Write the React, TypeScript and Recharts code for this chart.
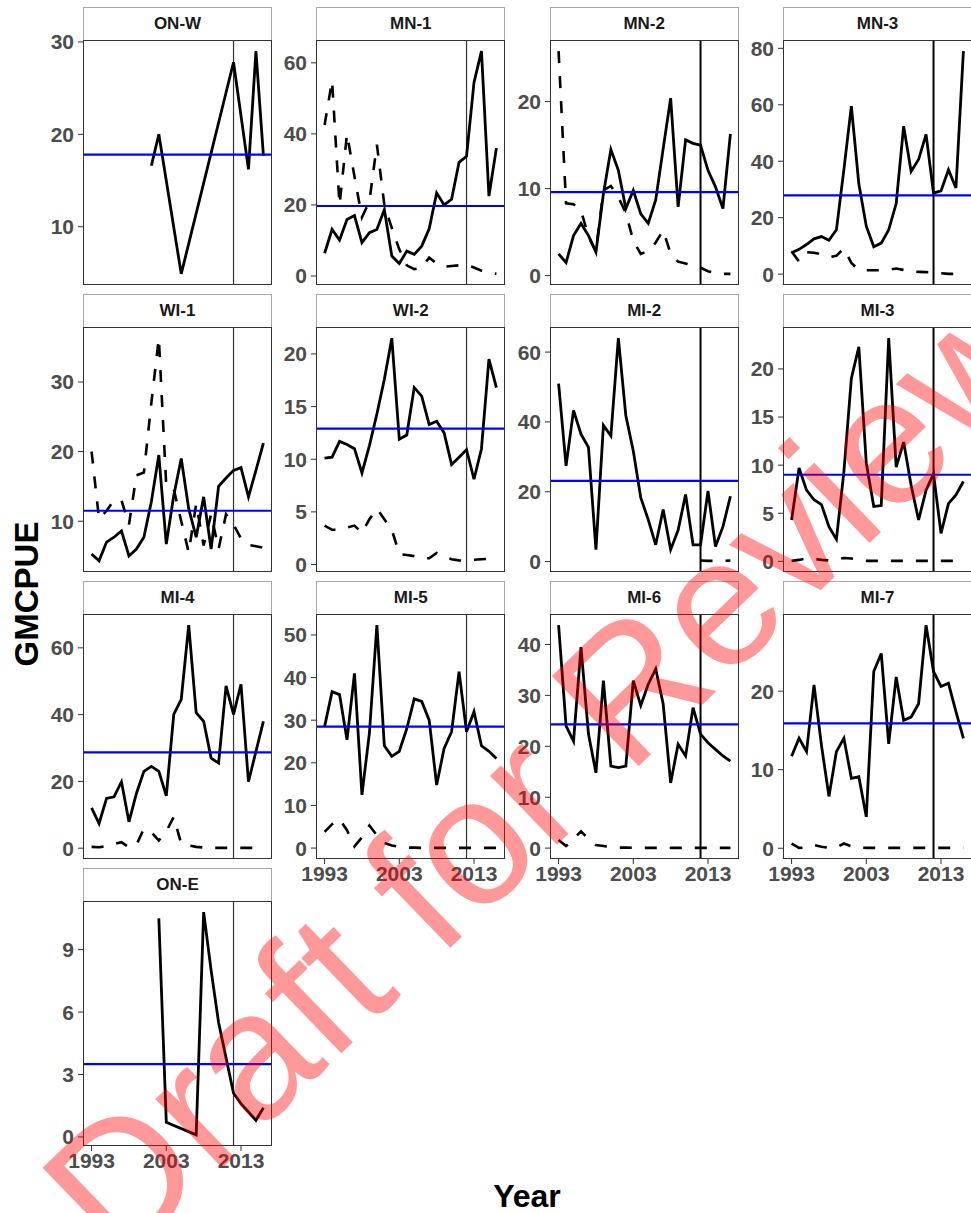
import React from "react";
import { LineChart, Line, XAxis, YAxis, ReferenceLine } from "recharts";

// ---------- data ----------
const YEARS = [1993, 1994, 1995, 1996, 1997, 1998, 1999, 2000, 2001, 2002, 2003, 2004, 2005, 2006, 2007, 2008, 2009, 2010, 2011, 2012, 2013, 2014, 2015, 2016];
const X_TICKS = [1993, 2003, 2013];
const BREAK_YEAR = 2012;

const PANEL_NAMES = ["ON-W", "MN-1", "MN-2", "MN-3", "WI-1", "WI-2", "MI-2", "MI-3", "MI-4", "MI-5", "MI-6", "MI-7", "ON-E"];
const MEANS = [17.8, 19.7, 9.6, 27.9, 11.5, 12.9, 23.1, 9.0, 28.7, 28.5, 24.3, 15.9, 3.5];
const Y_TICKS = [
  [10, 20, 30],
  [0, 20, 40, 60],
  [0, 10, 20],
  [0, 20, 40, 60, 80],
  [10, 20, 30],
  [0, 5, 10, 15, 20],
  [0, 20, 40, 60],
  [0, 5, 10, 15, 20],
  [0, 20, 40, 60],
  [0, 10, 20, 30, 40, 50],
  [0, 10, 20, 30, 40],
  [0, 10, 20],
  [0, 3, 6, 9],
];

const ONW_SOLID = [null, null, null, null, null, null, null, null, 16.6, 20, null, null, 4.9, null, null, null, null, null, null, 27.8, null, 16.2, 29, 17.7];
const ONW_DASH = [];
const MN1_SOLID = [6.4, 13.1, 10.1, 15.9, 17, 9.4, 12.2, 13.1, 18.7, 5.6, 3.5, 7, 6.1, 8.4, 13.3, 23.4, 20, 21.6, 32, 33.7, 54.5, 63.3, 22.5, 36];
const MN1_DASH = [42.5, 55, 20, 40, 28, 16.5, 21, 37, 20, 13.5, 7.5, 3, 1.9, 2.3, 5.2, 3.5, 2.6, 2.8, 3, 3.2, 2.4, 1.5, 1, 0.6];
const MN2_SOLID = [2.5, 1.5, 4.6, 6, 4.6, 2.7, 9.4, 14.5, 12.1, 7.7, 9.8, 7.1, 6, 8.7, 14.6, 20.4, 7.9, 15.6, 15.2, 15, 12.1, 10.2, 7.7, 16.3];
const MN2_DASH = [25.8, 8.3, 8.2, 7.5, 4.5, 2.8, 9.8, 10.3, 9, 7.2, 4, 2.5, 2.8, 3.8, 5.2, 2.5, 1.6, 1.4, 1.2, 0.9, 0.5, 0.3, 0.2, 0.2];
const MN3_SOLID = [7.6, 8.8, 10.5, 12.5, 13.3, 12, 15.7, 37, 59.5, 32, 17, 9.7, 11, 15.7, 25, 52.4, 36.4, 40.6, 49.5, 28.7, 29.5, 37, 30.5, 79];
const MN3_DASH = [8, 4.5, 7.8, 7.6, 7, 6, 6.5, 9.1, 4, 1.5, 1.4, 1.4, 1.4, 1.5, 2, 1.5, 0.9, 0.8, 0.7, 0.6, 0.3, 0.1, 0.1, 0.1];
const WI1_SOLID = [5.3, 4.3, 7, 7.7, 8.6, 5, 6, 7.7, 12.8, 19.5, 6.7, 13.7, 19, 11.8, 7.7, 13.5, 6, 15, 16.2, 17.3, 17.7, 13.5, 17.3, 21.2];
const WI1_DASH = [20, 10.3, 11.5, 13, 13, 9.5, 16.6, 17, 27, 36.3, 15, 14.6, 10, 5.5, 12.5, 6.5, 11, 6, 11, 9.5, 7.5, 6.6, 6.4, 6.2];
const WI2_SOLID = [10.1, 10.2, 11.7, 11.4, 11, 8.7, 11.3, 14.3, 17.6, 21.5, 11.9, 12.3, 16.8, 16, 13.3, 13.6, 12.5, 9.5, 10.2, 10.9, 8.1, 11, 19.5, 16.8];
const WI2_DASH = [3.7, 3.3, 3.3, 3.5, 3.7, 3, 4.3, 5.3, 4.3, 3.3, 1, 0.9, 0.8, 0.6, 0.6, 1.1, 0.8, 0.5, 0.4, 0.35, 0.45, 0.5, 0.55, 0.6];
const MI2_SOLID = [51, 27.4, 43.3, 36.5, 32.7, 3.4, 39, 36, 64, 41.8, 31.7, 18.3, 12, 4.8, 14.9, 3.4, 9, 19.2, 4.8, 4.8, 20.2, 4.3, 10, 18.7];
const MI2_DASH = [null, null, null, null, null, null, null, null, null, null, null, null, null, null, null, null, null, null, null, 0.3, 0.2, 0.2, 0.2, 0.3];
const MI3_SOLID = [4.3, 9.7, 7.4, 6.4, 5.9, 3.6, 2.3, 9.3, 19, 22.3, 10.2, 5.7, 5.8, 23.2, 9.8, 12.4, 7.9, 4.3, 7.4, 9.1, 2.9, 6, 6.9, 8.3];
const MI3_DASH = [0.05, 0.15, 0.3, 0.25, 0.15, 0.1, 0.2, 0.35, 0.3, 0.15, 0.05, 0.05, 0.05, 0.05, 0.05, 0.05, 0.05, 0.05, 0.05, 0.05, 0.05, 0.05, 0.05, 0.05];
const MI4_SOLID = [12.1, 7.4, 14.9, 15.4, 19.9, 7.9, 16.4, 23, 24.5, 23, 15.7, 40.1, 44.6, 66.8, 40.6, 38, 27, 25.5, 48.6, 40.1, 49.1, 19.9, 29, 38];
const MI4_DASH = [0.4, 0.3, 0.6, 1.2, 1.8, 0.3, 1, 5.8, 4.8, 2.3, 5, 9.4, 1.3, 0.8, 0.4, 0.2, 0.1, 0.1, 0.1, 0.1, 0.1, 0.1, 0.1, 0.1];
const MI5_SOLID = [28.5, 36.7, 36, 25.4, 41, 12.5, 27, 52.3, 24, 21.5, 22.7, 28, 35, 34.4, 30, 14.8, 23.4, 27.3, 41.4, 27.3, 32, 24, 22.7, 21];
const MI5_DASH = [3.8, 5.6, 6.8, 4.2, 0.4, 2.5, 5.3, 3, 1.2, 0.6, 0.3, 0.1, 0.1, 0.05, 0.05, 0.05, 0.05, 0.05, 0.05, 0.05, 0.05, 0.05, 0.05, 0.05];
const MI6_SOLID = [43.8, 24, 21, 39.5, 22.4, 14.8, 32.9, 16.1, 15.8, 16.1, 32.9, 28, 32.2, 35.2, 28.3, 12.8, 20.4, 18.1, 27.6, 22.4, 20.7, 19.4, 18.1, 17.1];
const MI6_DASH = [1.6, 0.4, 1.8, 3.3, 1.8, 0.6, 0.4, 0.2, 0.1, 0.1, 0.05, 0.05, 0.05, 0.05, 0.05, 0.05, 0.05, 0.05, 0.05, 0.05, 0.05, 0.05, 0.05, 0.05];
const MI7_SOLID = [11.7, 14, 12.3, 20.8, 13.1, 6.6, 12.3, 14, 8.9, 9.1, 4, 22.5, 24.8, 13.3, 21.8, 16.3, 16.7, 18.4, 28.4, 22.5, 20.6, 21, 17.4, 14];
const MI7_DASH = [0.6, 0.05, 0.1, 0.4, 0.2, 0.05, 0.1, 0.6, 0.25, 0.1, 0.05, 0.05, 0.05, 0.05, 0.05, 0.05, 0.05, 0.05, 0.05, 0.05, 0.05, 0.05, 0.05, 0.05];
const ONE_SOLID = [null, null, null, null, null, null, null, null, null, 10.5, 0.7, null, null, null, 0.1, 10.8, 8, 5.5, 3.8, 2.1, 1.6, 1.2, 0.8, 1.4];
const ONE_DASH = [];

const SOLIDS = [ONW_SOLID, MN1_SOLID, MN2_SOLID, MN3_SOLID, WI1_SOLID, WI2_SOLID, MI2_SOLID, MI3_SOLID, MI4_SOLID, MI5_SOLID, MI6_SOLID, MI7_SOLID, ONE_SOLID];
const DASHES = [ONW_DASH, MN1_DASH, MN2_DASH, MN3_DASH, WI1_DASH, WI2_DASH, MI2_DASH, MI3_DASH, MI4_DASH, MI5_DASH, MI6_DASH, MI7_DASH, ONE_DASH];

// ---------- layout ----------
const FONT = "'Liberation Sans', Arial, Helvetica, sans-serif";
const COL_LEFT = [83, 316.3, 549.7, 783];
const STRIP_TOP = [7, 294, 581, 868];
const STRIP_H = 33;
const PANEL_W = 189;
const PANEL_H = 245;
const Y_AXIS_W = 70;
const X_AXIS_H = 34;
const PAD = 14;
const X_MIN = 1991.85;
const X_MAX = 2017.15;

function yDomain(solid: (number | null)[], dash: (number | null)[], mean: number): [number, number] {
  const vals = [...solid, ...dash].filter((v) => v !== null && v !== undefined) as number[];
  vals.push(mean);
  const lo = Math.min(...vals);
  const hi = Math.max(...vals);
  const r = hi - lo;
  return [lo - 0.05 * r, hi + 0.05 * r];
}

const tickStyle = { fill: "#4d4d4d", fontSize: 21, fontWeight: 700, fontFamily: FONT };

function Panel({ idx }: { idx: number }) {
  const row = Math.floor(idx / 4);
  const col = idx % 4;
  const showX = idx >= 9;
  const solid = SOLIDS[idx];
  const dash = DASHES[idx];
  const mean = MEANS[idx];
  const data = YEARS.map((y, k) => ({
    year: y,
    solid: solid[k] ?? null,
    dashed: dash.length ? dash[k] ?? null : null,
  }));
  const dom = yDomain(solid, dash, mean);
  const left = COL_LEFT[col];
  const stripTop = STRIP_TOP[row];
  const panelTop = stripTop + STRIP_H;
  const bottomMargin = showX ? 0 : PAD;
  const chartH = PAD + PANEL_H + (showX ? X_AXIS_H : 0) + bottomMargin;
  const vlineW = col >= 2 ? 2 : 1.2;
  const vlineC = col >= 2 ? "#000" : "#333";
  return (
    <>
      <div style={{ position: "absolute", left: left - Y_AXIS_W, top: panelTop - PAD }}>
        <LineChart width={Y_AXIS_W + PANEL_W} height={chartH} data={data} margin={{ top: PAD, right: 0, bottom: bottomMargin, left: 0 }}>
          <XAxis
            dataKey="year"
            type="number"
            domain={[X_MIN, X_MAX]}
            ticks={X_TICKS}
            interval={0}
            allowDataOverflow
            hide={!showX}
            height={X_AXIS_H}
            axisLine={false}
            tickSize={5}
            tickMargin={2}
            tickLine={{ stroke: "#333" }}
            tick={tickStyle}
          />
          <YAxis
            type="number"
            domain={dom}
            ticks={Y_TICKS[idx]}
            interval={0}
            allowDataOverflow
            width={Y_AXIS_W}
            axisLine={false}
            tickSize={5}
            tickMargin={4}
            tickLine={{ stroke: "#333" }}
            tick={tickStyle}
          />
          <ReferenceLine x={BREAK_YEAR} stroke={vlineC} strokeWidth={vlineW} />
          <Line dataKey="dashed" stroke="#000" strokeWidth={2.6} strokeDasharray="12 13" dot={false} connectNulls isAnimationActive={false} />
          <Line dataKey="solid" stroke="#000" strokeWidth={2.8} dot={false} connectNulls isAnimationActive={false} />
          <ReferenceLine y={mean} stroke="#0000ff" strokeWidth={2.2} />
        </LineChart>
      </div>
      <div
        style={{
          position: "absolute",
          left,
          top: stripTop,
          width: PANEL_W,
          height: STRIP_H,
          boxSizing: "border-box",
          border: "1px solid #a9a9a9",
          borderBottom: "none",
          background: "#ffffff",
          display: "flex",
          alignItems: "center",
          justifyContent: "center",
          fontFamily: FONT,
          fontWeight: 700,
          fontSize: 17,
          color: "#1a1a1a",
        }}
      >
        {PANEL_NAMES[idx]}
      </div>
      <div
        style={{
          position: "absolute",
          left,
          top: panelTop,
          width: PANEL_W,
          height: PANEL_H,
          boxSizing: "border-box",
          border: "1px solid #333",
          pointerEvents: "none",
        }}
      />
    </>
  );
}

export default function App() {
  return (
    <div style={{ position: "absolute", left: 0, top: 0, width: 971, height: 1213, overflow: "hidden", background: "#fff" }}>
      {PANEL_NAMES.map((_, i) => (
        <Panel key={i} idx={i} />
      ))}
      <svg width={971} height={1213} style={{ position: "absolute", left: 0, top: 0, pointerEvents: "none" }}>
        <text x={38} y={594} transform="rotate(-90 38 594)" textAnchor="middle" fontFamily={FONT} fontWeight={700} fontSize={33} fill="#000">
          GMCPUE
        </text>
        <text x={527} y={1207} textAnchor="middle" fontFamily={FONT} fontWeight={700} fontSize={32} fill="#000">
          Year
        </text>
        <text
          x={588}
          y={815}
          transform="rotate(-44 588 815)"
          textAnchor="middle"
          fontFamily={FONT}
          fontSize={182}
          fill="#ff0000"
          fillOpacity={0.4}
        >
          Draft for Review
        </text>
      </svg>
    </div>
  );
}
